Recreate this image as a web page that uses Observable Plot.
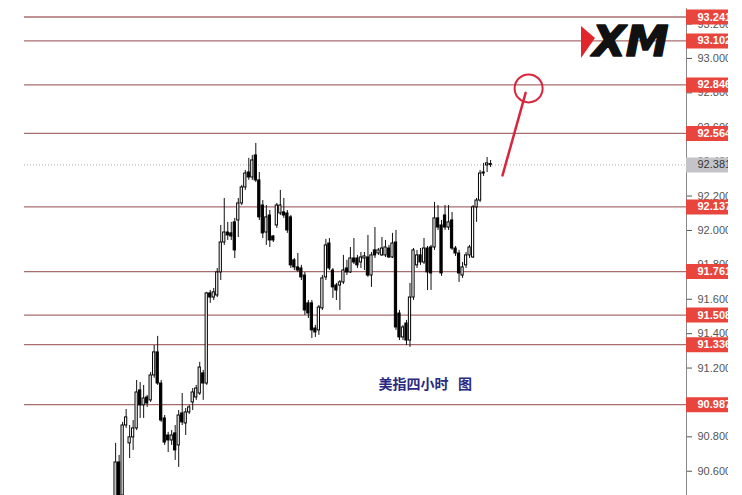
<!DOCTYPE html>
<html><head><meta charset="utf-8">
<script src="https://cdn.jsdelivr.net/npm/d3@7"></script>
<script src="https://cdn.jsdelivr.net/npm/@observablehq/plot@0.6"></script>
<style>
html,body{margin:0;padding:0;background:#fff;width:742px;height:495px;overflow:hidden;}
#chart{width:742px;height:495px;background:#fff;}
</style></head><body><div id="chart"></div>
<script>
const opens = [90.430,90.651,90.459,90.866,90.762,90.797,90.849,91.070,90.983,91.029,91.012,91.157,91.291,91.110,90.907,90.808,90.779,90.820,90.750,90.936,90.878,90.942,91.000,91.029,91.052,91.169,91.110,91.634,91.610,91.622,91.756,91.930,91.988,91.983,92.047,92.058,92.157,92.250,92.337,92.308,92.436,92.291,92.145,91.988,92.087,91.965,92.029,92.099,92.105,92.099,92.076,91.826,91.785,91.779,91.738,91.576,91.576,91.430,91.419,91.547,91.727,91.924,91.767,91.680,91.680,91.698,91.779,91.756,91.837,91.837,91.814,91.837,91.843,91.738,91.884,91.866,91.855,91.855,91.895,91.843,91.930,91.517,91.378,91.459,91.360,91.610,91.797,91.855,91.814,91.895,91.901,91.901,92.070,92.029,92.087,92.017,92.058,91.895,91.866,91.738,91.797,91.855,91.843,92.134,92.174,92.331,92.378,92.386];
const highs = [90.762,90.692,90.884,90.959,90.866,90.895,91.128,91.116,91.099,91.041,91.174,91.331,91.384,91.128,90.924,90.826,90.837,90.866,90.953,91.052,90.965,90.983,91.081,91.099,91.233,91.186,91.640,91.651,91.663,91.779,92.029,92.186,92.047,92.047,92.070,92.186,92.262,92.349,92.419,92.436,92.506,92.337,92.174,92.145,92.116,91.971,92.157,92.233,92.186,92.116,92.087,91.837,91.866,91.797,91.756,91.593,91.593,91.448,91.564,91.738,91.948,91.953,91.779,91.692,91.709,91.855,91.826,91.901,91.953,91.855,91.872,91.872,91.971,91.872,92.017,91.895,91.959,91.942,91.913,91.983,92.000,91.535,91.448,91.477,91.692,91.895,91.884,91.895,91.953,91.907,91.913,92.163,92.145,92.058,92.145,92.145,92.105,91.907,91.884,91.814,91.872,91.913,92.145,92.186,92.349,92.390,92.424,92.407];
const lows = [90.401,90.401,90.430,90.849,90.674,90.721,90.837,90.907,90.907,90.971,91.000,91.140,91.099,90.884,90.750,90.709,90.750,90.663,90.622,90.866,90.808,90.930,90.953,91.012,91.041,91.012,91.099,91.576,91.593,91.610,91.709,91.913,91.942,91.942,91.837,91.959,92.145,92.233,92.291,92.291,92.279,92.058,91.953,91.913,91.901,91.930,92.012,92.087,92.070,91.983,91.779,91.767,91.756,91.709,91.506,91.488,91.372,91.378,91.390,91.535,91.709,91.767,91.605,91.593,91.535,91.686,91.738,91.750,91.802,91.779,91.779,91.767,91.727,91.669,91.837,91.855,91.849,91.843,91.837,91.837,91.419,91.360,91.360,91.331,91.320,91.593,91.779,91.797,91.802,91.651,91.651,91.884,92.000,91.733,92.000,92.000,91.884,91.849,91.698,91.721,91.779,91.837,91.837,92.047,92.163,92.314,92.337,92.366];
const closes = [90.651,90.442,90.866,90.913,90.797,90.849,91.058,90.983,91.023,90.994,91.157,91.291,91.110,90.895,90.767,90.779,90.808,90.721,90.924,90.884,90.942,90.971,91.058,91.081,91.203,91.110,91.634,91.610,91.640,91.756,91.930,91.988,91.971,91.965,91.884,92.157,92.250,92.331,92.308,92.407,92.291,92.076,91.983,92.076,91.942,91.942,92.145,92.145,92.087,92.000,91.797,91.785,91.767,91.727,91.535,91.517,91.419,91.407,91.552,91.721,91.913,91.779,91.669,91.651,91.698,91.767,91.756,91.837,91.814,91.797,91.843,91.849,91.738,91.855,91.855,91.884,91.895,91.901,91.843,91.924,91.436,91.378,91.436,91.360,91.610,91.884,91.855,91.814,91.895,91.756,91.750,92.070,92.017,91.750,92.017,92.047,91.895,91.866,91.750,91.785,91.855,91.901,92.134,92.174,92.331,92.337,92.390,92.381];

const levels = [93.241, 93.102, 92.846, 92.564, 92.137, 91.761, 91.508, 91.336, 90.987];
const lastPrice = 92.381;
const tickValues = [93.2, 93.0, 92.8, 92.6, 92.4, 92.2, 92.0, 91.8, 91.6, 91.4, 91.2, 91.0, 90.8, 90.6];
const chartLabel = "美指四小时   图";
const labelAt = {i: 75, price: 91.105};
const arrow = [{i: 110.4, price: 92.320}, {i: 117.0, price: 92.800}];
const target = [{i: 117.85, price: 92.826}];
const logoText = "XM";

const xDomain = [-26, 162.9];
const yDomain = [90.459, 93.337];
const xEdge = xDomain[1];
const labelWidth = 12;

const candles = opens.map((o, i) => ({i, o, h: highs[i], l: lows[i], c: closes[i], up: closes[i] >= o}));

const chart = Plot.plot({
  width: 728, height: 495,
  marginLeft: 24, marginRight: 42, marginTop: 0, marginBottom: 0,
  style: {fontFamily: "Liberation Sans, Arial, sans-serif", background: "#fff", overflow: "hidden"},
  x: {domain: xDomain, axis: null},
  y: {domain: yDomain, axis: null},
  marks: [
    Plot.ruleY(levels, {y: d => d, x1: xDomain[0], x2: xEdge, stroke: "#a86e6e", strokeWidth: 1.3}),
    Plot.ruleY([lastPrice], {y: d => d, x1: xDomain[0], x2: xEdge, stroke: "#aaa", strokeDasharray: "1,2"}),
    Plot.ruleX(candles, {x: "i", y1: "l", y2: "h", stroke: "#111", strokeWidth: 1, clip: true}),
    Plot.rect(candles, {x1: d => d.i - 0.32, x2: d => d.i + 0.32, y1: "o", y2: "c", fill: d => d.up ? "#fff" : "#000", stroke: "#000", strokeWidth: 1, clip: true}),
    Plot.ruleX([xEdge], {y1: 93.29, y2: yDomain[0], stroke: "#888", strokeWidth: 1}),
    Plot.axisY({anchor: "right", ticks: tickValues, tickFormat: d3.format(".3f"), tickSize: 5, tickPadding: 6, fontSize: 11, color: "#555"}),
    Plot.ruleY(levels, {y: d => d, x1: xEdge, x2: xEdge + labelWidth, stroke: "#e8453c", strokeWidth: 15}),
    Plot.ruleY([lastPrice], {y: d => d, x1: xEdge, x2: xEdge + labelWidth, stroke: "#c4c4c8", strokeWidth: 15}),
    Plot.text(levels, {x: xEdge, y: d => d, text: d => d.toFixed(3), dx: 11, textAnchor: "start", fill: "#fff", fontWeight: "bold", fontSize: 11}),
    Plot.text([lastPrice], {x: xEdge, y: d => d, text: d => d.toFixed(3), dx: 11, textAnchor: "start", fill: "#333", fontSize: 11}),
    Plot.line(arrow, {x: "i", y: "price", stroke: "#d7263d", strokeWidth: 2.5}),
    Plot.dot(target, {x: "i", y: "price", r: 14, stroke: "#d7263d", strokeWidth: 2, fill: "none"}),
    Plot.text([chartLabel], {x: labelAt.i, y: labelAt.price, text: d => d, textAnchor: "start", fill: "#2a2a80", fontSize: 14, fontWeight: "bold", fontFamily: "Noto Sans CJK SC"}),
    Plot.text([logoText], {frameAnchor: "top-right", dx: -18, dy: 42, text: d => d, textAnchor: "end", lineAnchor: "middle", fill: "#111", stroke: "#111", strokeWidth: 1.6, fontSize: 43, fontWeight: 900, fontStyle: "italic", fontFamily: "DejaVu Sans", letterSpacing: "-3px"})
  ]
});
d3.select(chart).append("polygon").attr("points", "581,26 595,38 581,58").attr("fill", "#e2252b");
document.getElementById("chart").appendChild(chart);
</script></body></html>
